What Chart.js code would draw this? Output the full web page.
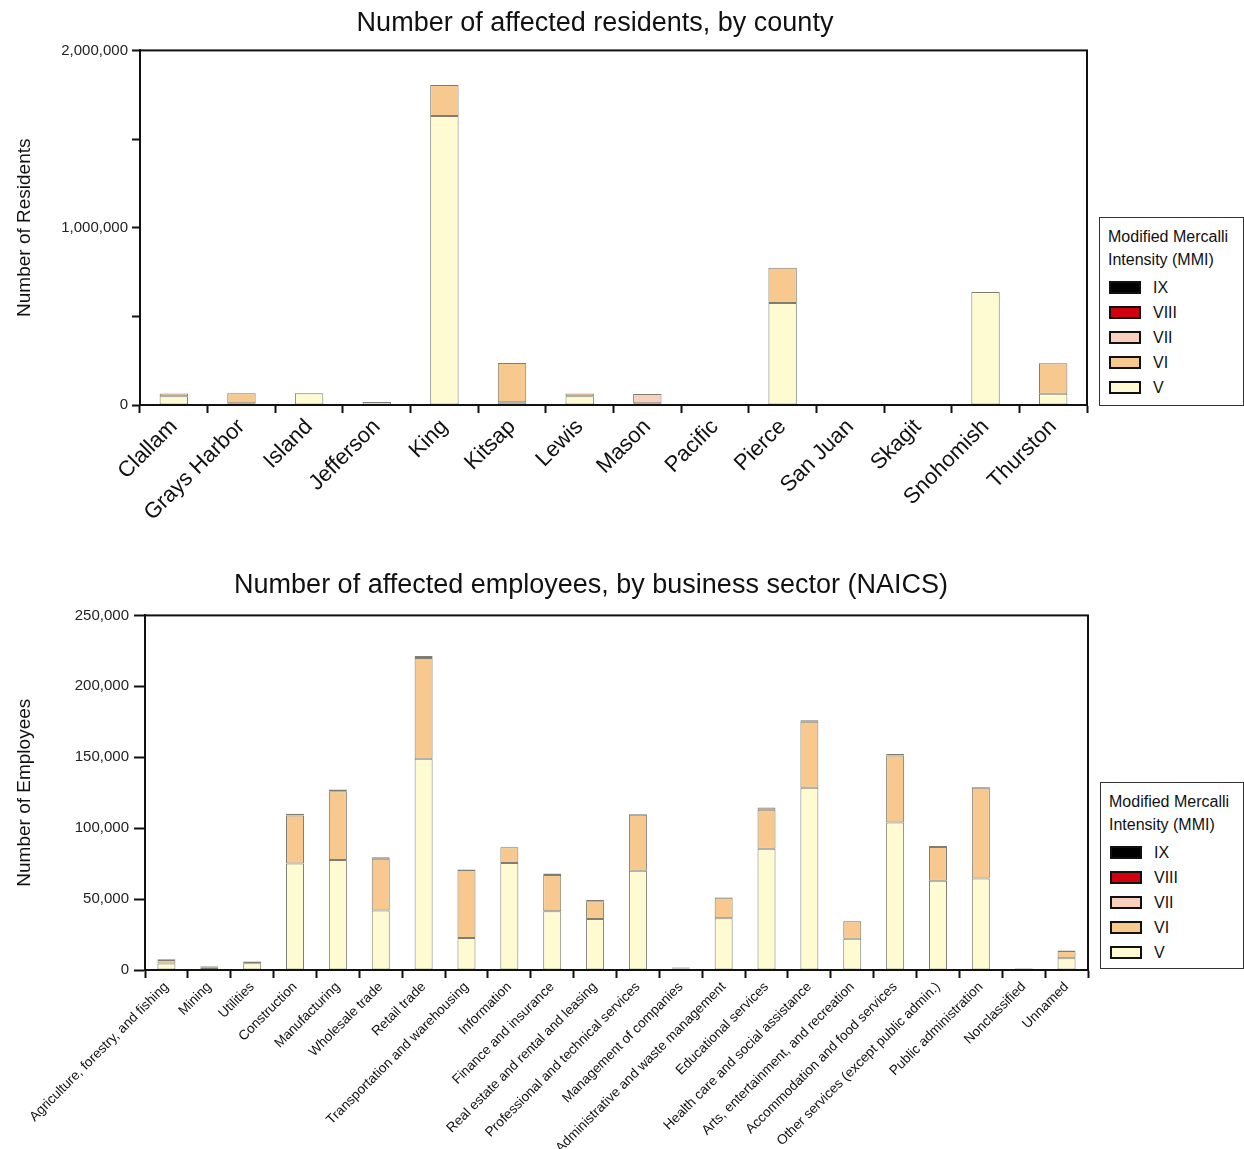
<!DOCTYPE html>
<html><head><meta charset="utf-8">
<script src="https://cdn.jsdelivr.net/npm/chart.js@4/dist/chart.umd.min.js"></script>
<style>
html,body{margin:0;padding:0;background:#fff}
body{width:1244px;height:1149px;position:relative;overflow:hidden;font-family:"Liberation Sans",Arial,sans-serif;color:#111}
canvas{position:absolute;left:0}
.legend{position:absolute;box-sizing:border-box;border:1.5px solid #333;background:#fff}
.legend .t{position:absolute;left:8px;font-size:16px;line-height:23px;white-space:nowrap}
.legend .sw{position:absolute;left:9px;width:32px;height:13px;box-sizing:border-box;border:2px solid #111}
.legend .lb{position:absolute;left:53px;font-size:16px;line-height:20px}
</style>
</head><body>
<canvas id="c1" width="1244" height="545" style="top:0"></canvas>
<canvas id="c2" width="1244" height="599" style="top:550px"></canvas>
<div class="legend" id="lg1" style="left:1099px;top:217px;width:145px;height:189px"></div>
<div class="legend" id="lg2" style="left:1100px;top:782px;width:144px;height:187px"></div>
<script>
// ---- data ----
const mmiLabels = ['V','VI','VII','VIII','IX'];
const mmiColors = ['#fefbd2','#f8c98f','#f9cfbe','#d0000f','#000000'];

const counties = ['Clallam','Grays Harbor','Island','Jefferson','King','Kitsap','Lewis','Mason','Pacific','Pierce','San Juan','Skagit','Snohomish','Thurston'];
const resV    = [50000, 10000, 66000, 17000, 1630000, 15000, 50000, 3000, 6000, 576000, 0, 6000, 638000, 64000];
const resVI   = [15000, 56000, 0, 0, 175000, 222000, 15000, 7000, 0, 198000, 0, 0, 0, 171000];
const resVII  = [0, 0, 0, 0, 0, 0, 0, 52000, 0, 0, 0, 0, 0, 0];
const resVIII = [0, 0, 0, 0, 0, 0, 0, 0, 0, 0, 0, 0, 0, 0];
const resIX   = [0, 0, 0, 0, 0, 0, 0, 0, 0, 0, 0, 0, 0, 0];
const resTicks = ['0','1,000,000','2,000,000'];

const sectors = ['Agriculture, forestry, and fishing','Mining','Utilities','Construction','Manufacturing','Wholesale trade','Retail trade','Transportation and warehousing','Information','Finance and insurance','Real estate and rental and leasing','Professional and technical services','Management of companies','Administrative and waste management','Educational services','Health care and social assistance','Arts, entertainment, and recreation','Accommodation and food services','Other services (except public admin.)','Public administration','Nonclassified','Unnamed'];
const empV    = [4500, 1500, 4700, 75000, 77500, 42000, 149000, 22500, 75500, 41500, 36000, 70000, 1000, 36500, 85500, 128500, 22000, 104000, 63000, 64500, 600, 8200];
const empVI   = [2500, 1000, 1200, 34000, 48500, 36500, 71000, 48000, 11000, 25500, 12500, 39400, 700, 14500, 27500, 46500, 12300, 47200, 23800, 64000, 400, 5200];
const empVII  = [500, 300, 300, 1200, 1300, 1000, 1300, 300, 400, 1000, 800, 600, 300, 300, 1500, 1000, 200, 1100, 700, 500, 200, 300];
const empVIII = [0, 0, 0, 0, 0, 0, 0, 0, 0, 0, 0, 0, 0, 0, 0, 0, 0, 0, 0, 0, 0, 0];
const empIX   = [0, 0, 0, 0, 0, 0, 0, 0, 0, 0, 0, 0, 0, 0, 0, 0, 0, 0, 0, 0, 0, 0];

const FONT = '"Liberation Sans", Arial, sans-serif';

const boxPlugin = {
  id: 'box',
  afterDraw(chart) {
    const a = chart.chartArea, ctx = chart.ctx;
    ctx.save();
    ctx.strokeStyle = '#111';
    ctx.lineWidth = 2;
    ctx.strokeRect(a.left, a.top, a.right - a.left, a.bottom - a.top);
    ctx.restore();
  }
};

function makeDatasets(series) {
  return series.map((d, i) => ({
    label: mmiLabels[i],
    data: d,
    backgroundColor: mmiColors[i],
    borderColor: '#7d7d74',
    borderWidth: 1,
    borderSkipped: false,
    barPercentage: 0.42,
    categoryPercentage: 1.0
  }));
}

function makeChart(id, cfg) {
  return new Chart(document.getElementById(id), {
    type: 'bar',
    data: { labels: cfg.labels, datasets: makeDatasets(cfg.series) },
    plugins: [boxPlugin],
    options: {
      responsive: false,
      animation: false,
      devicePixelRatio: 1,
      layout: { padding: { left: 0, right: cfg.padRight, top: 0, bottom: 0 } },
      plugins: {
        legend: { display: false },
        tooltip: { enabled: false },
        title: {
          display: true, text: cfg.title, color: '#111',
          font: { family: FONT, size: 27, weight: 'normal', lineHeight: 1.2 },
          padding: cfg.titlePad
        }
      },
      scales: {
        x: {
          stacked: true,
          offset: true,
          afterFit(s) { s.height = cfg.xHeight; },
          grid: { offset: true, drawOnChartArea: false, tickLength: 8, tickColor: '#111', tickWidth: 2 },
          border: { color: '#111', width: 2 },
          ticks: { autoSkip: false, minRotation: 45, maxRotation: 45, padding: 1, color: '#111',
                   font: { family: FONT, size: cfg.xFont } }
        },
        y: {
          stacked: true,
          min: 0, max: cfg.yMax,
          afterFit(s) { s.width = cfg.yWidth; },
          grid: { drawOnChartArea: false, tickLength: cfg.yTickLen, tickColor: '#111', tickWidth: 2 },
          border: { color: '#111', width: 2 },
          ticks: { stepSize: cfg.yStep, padding: cfg.yTickPad, color: '#222', font: { family: FONT, size: 15 },
                   callback: cfg.yCallback },
          title: { display: true, text: cfg.yTitle, color: '#111',
                   font: { family: FONT, size: 19 }, padding: { top: 13, bottom: 0 } }
        },
        spacer: {
          type: 'linear', position: 'right', display: true,
          afterFit(s) { s.width = cfg.spacer; },
          grid: { display: false, drawTicks: false },
          border: { display: false },
          ticks: { display: false }
        }
      }
    }
  });
}

makeChart('c1', {
  labels: counties,
  series: [resV, resVI, resVII, resVIII, resIX],
  title: 'Number of affected residents, by county',
  titlePad: { top: 7, bottom: 11 },
  padRight: 54, spacer: 103, xHeight: 140, yWidth: 140, xFont: 22,
  yMax: 2000000, yStep: 500000, yTickLen: 8, yTickPad: 4,
  yCallback: (v) => (v % 1000000 === 0 ? resTicks[v / 1000000] : ''),
  yTitle: 'Number of Residents'
});

makeChart('c2', {
  labels: sectors,
  series: [empV, empVI, empVII, empVIII, empIX],
  title: 'Number of affected employees, by business sector (NAICS)',
  titlePad: { top: 19, bottom: 14 },
  padRight: 62, spacer: 94, xHeight: 179, yWidth: 145, xFont: 13.6,
  yMax: 250000, yStep: 50000, yTickLen: 11, yTickPad: 5,
  yCallback: (v) => v.toLocaleString('en-US'),
  yTitle: 'Number of Employees'
});

function buildLegend(id) {
  const el = document.getElementById(id);
  const t1 = document.createElement('div'); t1.className = 't'; t1.style.top = '7px';
  t1.textContent = 'Modified Mercalli'; el.appendChild(t1);
  const t2 = document.createElement('div'); t2.className = 't'; t2.style.top = '30px';
  t2.textContent = 'Intensity (MMI)'; el.appendChild(t2);
  for (let k = 0; k < mmiLabels.length; k++) {
    const i = mmiLabels.length - 1 - k;
    const cy = 70 + k * 25;
    const sw = document.createElement('div'); sw.className = 'sw';
    sw.style.top = (cy - 7) + 'px'; sw.style.background = mmiColors[i];
    el.appendChild(sw);
    const lb = document.createElement('div'); lb.className = 'lb';
    lb.style.top = (cy - 10) + 'px'; lb.textContent = mmiLabels[i];
    el.appendChild(lb);
  }
}
buildLegend('lg1');
buildLegend('lg2');
</script>
</body></html>
